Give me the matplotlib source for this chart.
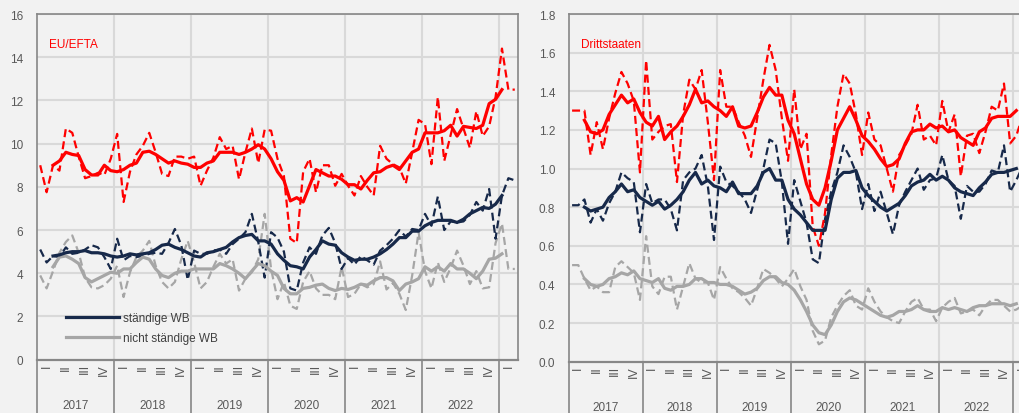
import numpy as np
import matplotlib
matplotlib.use('Agg')
import matplotlib.pyplot as plt
import matplotlib.transforms as mtransforms

plt.rcParams['font.family'] = ['Liberation Sans', 'DejaVu Sans']

# monthly values Jan 2017 .. Mar 2023, solid lines = smoothed series Mar 2017 .. Jan 2023
years = ['2017', '2018', '2019', '2020', '2021', '2022']
quarters = ['I', 'II', 'III', 'IV']
legend_labels = ['ständige WB', 'nicht ständige WB']

eu_red = [9.0, 7.75, 9.0, 8.75, 10.7, 10.5, 9.4, 8.4, 8.5, 8.65, 8.55, 9.3,
          10.45, 7.3, 8.7, 9.5, 9.9, 10.5, 9.6, 8.6, 8.5, 9.4, 9.4, 9.3,
          9.4, 8.05, 8.75, 9.35, 10.3, 9.75, 9.9, 8.35, 9.6, 10.7, 9.1, 10.65,
          10.6, 9.3, 8.5, 5.6, 5.4, 8.7, 9.3, 7.75, 9.0, 9.0, 8.05, 8.6,
          8.05, 7.6, 8.5, 8.0, 7.6, 9.9, 9.3, 9.05, 8.9, 8.15, 9.6, 11.1,
          10.9, 9.05, 12.15, 9.2, 10.4, 11.6, 10.7, 9.8, 11.5, 10.35, 10.8, 12.15,
          14.4, 12.5, 12.5]
eu_red_avg = [9.0, 9.2, 9.6, 9.5, 9.45, 8.8, 8.55, 8.55, 9.0, 8.75,
              8.7, 8.8, 9.0, 9.1, 9.6, 9.65, 9.5, 9.3, 9.1, 9.2, 9.1, 9.05,
              8.9, 8.9, 9.1, 9.2, 9.6, 9.6, 9.6, 9.5, 9.6, 9.75, 9.95, 9.75,
              9.3, 8.7, 8.3, 7.35, 7.5, 7.3, 8.05, 8.8, 8.65, 8.5, 8.5, 8.35,
              8.1, 8.1, 7.9, 8.3, 8.65, 8.7, 8.9, 9.0, 8.8, 9.2, 9.6, 9.75,
              10.5, 10.5, 10.5, 10.6, 10.85, 10.35, 10.8, 10.75, 10.7, 10.85, 11.85, 12.05,
              12.5]
eu_navy = [5.1, 4.5, 4.8, 4.75, 5.2, 4.9, 4.95, 5.1, 5.3, 5.2, 4.75, 4.2,
           5.6, 4.6, 4.8, 4.75, 4.8, 4.9, 4.95, 4.9, 5.4, 6.05, 5.3, 3.7,
           5.05, 4.9, 4.9, 5.05, 5.1, 4.9, 5.35, 5.6, 5.9, 6.75, 5.45, 3.8,
           5.9, 5.65, 5.0, 3.3, 3.2, 4.5, 5.2, 4.9, 5.75, 6.1, 5.4, 4.2,
           4.7, 4.4, 4.8, 4.6, 4.4, 5.05, 5.3, 5.6, 6.0, 5.7, 6.05, 6.0,
           6.75, 6.2, 7.55, 6.0, 6.4, 6.35, 6.4, 6.7, 7.3, 6.9, 7.9, 5.6,
           7.6, 8.4, 8.3]
eu_navy_avg = [4.8, 4.85, 4.95, 5.0, 5.0, 5.05, 4.95, 4.95, 4.9, 4.8,
               4.75, 4.8, 4.9, 4.85, 4.9, 4.95, 5.1, 5.3, 5.35, 5.2, 5.1, 4.95,
               4.8, 4.75, 4.95, 5.0, 5.1, 5.2, 5.45, 5.65, 5.75, 5.8, 5.5, 5.5,
               5.35, 4.9, 4.6, 4.35, 4.3, 4.2, 4.75, 5.1, 5.5, 5.35, 5.3, 4.95,
               4.75, 4.6, 4.65, 4.65, 4.75, 4.9, 5.1, 5.35, 5.65, 5.65, 5.95, 5.95,
               6.2, 6.35, 6.45, 6.45, 6.45, 6.35, 6.5, 6.75, 6.9, 7.05, 7.0, 7.2,
               7.6]
eu_gray = [3.9, 3.3, 4.1, 4.95, 5.45, 5.75, 4.95, 3.8, 3.35, 3.3, 3.45, 3.75,
           4.35, 2.9, 4.05, 4.75, 5.05, 5.5, 4.35, 3.6, 3.3, 3.6, 4.65, 5.5,
           4.5, 3.3, 3.6, 4.3, 4.9, 4.45, 4.65, 3.2, 3.75, 4.05, 4.65, 6.75,
           4.2, 2.8, 3.6, 2.5, 2.35, 3.6, 4.1, 3.3, 3.0, 3.0, 2.8, 4.3,
           2.9, 3.05, 3.5, 3.35, 3.5, 4.55, 3.25, 3.55, 3.05, 2.3, 3.9, 5.9,
           4.1, 3.3, 4.5, 3.6, 4.25, 5.05, 4.35, 3.5, 4.1, 3.3, 3.35, 5.4,
           6.3, 4.2, 4.2]
eu_gray_avg = [4.3, 4.75, 4.8, 4.65, 4.45, 3.8, 3.6, 3.75, 3.9, 4.05,
               4.0, 4.2, 4.2, 4.5, 4.75, 4.65, 4.2, 3.9, 3.8, 4.0, 4.1, 4.1,
               4.2, 4.2, 4.2, 4.2, 4.45, 4.35, 4.2, 4.0, 3.75, 4.1, 4.45, 4.35,
               4.1, 3.9, 3.3, 3.05, 3.05, 3.3, 3.35, 3.45, 3.5, 3.3, 3.2, 3.3,
               3.25, 3.35, 3.5, 3.45, 3.65, 3.8, 3.8, 3.65, 3.2, 3.5, 3.6, 3.75,
               4.3, 4.1, 4.3, 4.1, 4.45, 4.2, 4.2, 4.0, 3.75, 4.1, 4.65, 4.7,
               4.9]

dr_red = [1.30, 1.30, 1.30, 1.07, 1.24, 1.10, 1.26, 1.39, 1.50, 1.44, 1.35, 0.98,
          1.56, 1.15, 1.19, 1.22, 1.23, 0.93, 1.28, 1.46, 1.41, 1.51, 1.24, 0.94,
          1.51, 1.32, 1.32, 1.24, 1.17, 1.06, 1.26, 1.46, 1.64, 1.51, 1.26, 1.04,
          1.41, 1.10, 1.18, 0.70, 0.60, 0.77, 1.07, 1.32, 1.49, 1.44, 1.28, 1.07,
          1.29, 1.15, 1.12, 1.00, 0.88, 1.07, 1.12, 1.18, 1.33, 1.15, 1.17, 1.12,
          1.35, 1.19, 1.28, 0.96, 1.17, 1.18, 1.08, 1.19, 1.32, 1.30, 1.44, 1.13,
          1.17, 1.27, 1.30]
dr_red_avg = [1.25, 1.19, 1.18, 1.20, 1.28, 1.33, 1.38, 1.34, 1.36, 1.29,
              1.24, 1.22, 1.27, 1.15, 1.19, 1.22, 1.27, 1.33, 1.41, 1.34, 1.35, 1.32,
              1.30, 1.27, 1.32, 1.22, 1.21, 1.22, 1.29, 1.37, 1.42, 1.38, 1.38, 1.25,
              1.18, 1.05, 0.92, 0.84, 0.81, 0.90, 1.04, 1.20, 1.26, 1.32, 1.25, 1.17,
              1.14, 1.10, 1.05, 1.01, 1.02, 1.05, 1.13, 1.19, 1.20, 1.20, 1.23, 1.21,
              1.22, 1.19, 1.20, 1.16, 1.14, 1.12, 1.19, 1.21, 1.26, 1.27, 1.27, 1.27,
              1.30]
dr_navy = [0.81, 0.81, 0.84, 0.72, 0.79, 0.73, 0.82, 0.88, 0.98, 0.95, 0.93, 0.67,
           0.92, 0.82, 0.84, 0.84, 0.79, 0.68, 0.94, 0.98, 1.00, 1.07, 0.91, 0.63,
           1.01, 0.93, 0.91, 0.88, 0.84, 0.77, 0.89, 1.00, 1.15, 1.13, 0.93, 0.61,
           0.94, 0.83, 0.72, 0.53, 0.51, 0.74, 0.88, 0.98, 1.12, 1.06, 0.98, 0.79,
           0.92, 0.78, 0.88, 0.77, 0.66, 0.81, 0.88, 0.94, 1.00, 0.89, 0.94, 0.95,
           1.07, 0.94, 0.91, 0.74, 0.91, 0.88, 0.88, 0.92, 0.99, 0.98, 1.12, 0.88,
           0.94, 1.01, 1.00]
dr_navy_avg = [0.80, 0.78, 0.79, 0.80, 0.85, 0.88, 0.92, 0.88, 0.89, 0.85,
               0.83, 0.81, 0.83, 0.79, 0.81, 0.84, 0.88, 0.94, 0.98, 0.92, 0.94, 0.91,
               0.90, 0.88, 0.93, 0.87, 0.87, 0.87, 0.91, 0.98, 1.00, 0.94, 0.94, 0.84,
               0.79, 0.76, 0.72, 0.68, 0.68, 0.68, 0.84, 0.95, 0.98, 0.98, 0.99, 0.90,
               0.86, 0.83, 0.80, 0.78, 0.80, 0.82, 0.86, 0.91, 0.93, 0.94, 0.97, 0.94,
               0.96, 0.94, 0.90, 0.88, 0.87, 0.86, 0.90, 0.93, 0.97, 0.98, 0.98, 0.99,
               1.00]
dr_gray = [0.50, 0.50, 0.43, 0.37, 0.39, 0.36, 0.36, 0.49, 0.52, 0.49, 0.46, 0.32,
           0.65, 0.39, 0.35, 0.44, 0.44, 0.27, 0.39, 0.51, 0.43, 0.41, 0.41, 0.32,
           0.49, 0.43, 0.38, 0.36, 0.33, 0.29, 0.38, 0.48, 0.46, 0.43, 0.39, 0.43,
           0.48, 0.39, 0.32, 0.16, 0.09, 0.11, 0.23, 0.29, 0.34, 0.37, 0.29, 0.27,
           0.38, 0.31, 0.26, 0.23, 0.21, 0.20, 0.26, 0.31, 0.33, 0.27, 0.27, 0.21,
           0.28, 0.31, 0.33, 0.25, 0.26, 0.27, 0.24, 0.29, 0.32, 0.32, 0.29, 0.26,
           0.27, 0.29, 0.30]
dr_gray_avg = [0.43, 0.40, 0.39, 0.40, 0.43, 0.44, 0.46, 0.45, 0.47, 0.43,
               0.42, 0.41, 0.43, 0.38, 0.37, 0.39, 0.39, 0.40, 0.43, 0.43, 0.41, 0.41,
               0.40, 0.40, 0.39, 0.37, 0.35, 0.36, 0.38, 0.42, 0.44, 0.44, 0.41, 0.40,
               0.37, 0.32, 0.26, 0.19, 0.15, 0.14, 0.19, 0.26, 0.31, 0.33, 0.32, 0.30,
               0.28, 0.26, 0.24, 0.23, 0.24, 0.26, 0.26, 0.27, 0.29, 0.27, 0.26, 0.26,
               0.28, 0.27, 0.28, 0.27, 0.26, 0.28, 0.29, 0.29, 0.30, 0.30, 0.30, 0.29,
               0.30]

RED = '#ff0000'
NAVY = '#17294a'
GRAY = '#a6a6a6'
BG = '#f2f2f2'
GRID = '#d9d9d9'
FRAME = '#878787'
TXT = '#595959'

n_months = len(eu_red)
x_all = np.arange(n_months)
x_avg = np.arange(2, 2 + len(eu_red_avg))


def panel(ax, series, ymax, ystep, fmt, title):
    ax.set_facecolor(BG)
    ax.set_xlim(-0.5, n_months - 0.5)
    ax.set_ylim(0, ymax)
    ax.set_yticks(np.arange(0, ymax + ystep / 2, ystep))
    ax.yaxis.set_major_formatter(matplotlib.ticker.FormatStrFormatter(fmt))
    ax.set_xticks([])
    ax.tick_params(axis='y', length=0, pad=10, labelsize=8.5, labelcolor=TXT)
    for yv in ax.get_yticks()[1:]:
        ax.axhline(yv, color=GRID, lw=1.5, zorder=0)
    for k in range(1, len(years) + 1):
        ax.axvline(12 * k - 0.5, color=GRID, lw=1.5, zorder=0)
    for s in ax.spines.values():
        s.set_color(FRAME)
        s.set_linewidth(1.2)
    ax.spines['bottom'].set_linewidth(1.6)

    for vals, avg, col in series:
        l, = ax.plot(x_all, vals, color=col, lw=1.6, zorder=3)
        l.set_dashes((3.6, 1.9))
        ax.plot(x_avg, avg, color=col, lw=2.3, zorder=4, solid_joinstyle='round')

    ax.text(0.025, 0.913, title, color=RED, fontsize=8.5, transform=ax.transAxes,
            ha='left', va='center')

    # category axis: quarters and years below the plot
    tr = mtransforms.blended_transform_factory(ax.transData, ax.transAxes)
    for k in range(len(years) + 1):
        ax.plot([12 * k - 0.5] * 2, [0, -0.2], color=FRAME, lw=1.2,
                transform=tr, clip_on=False)
    for k in range(len(years) + 1):
        for q, lab in enumerate(quarters):
            m = 12 * k + 3 * q + 1
            if m >= n_months:
                break
            ax.text(m, -0.01, lab, rotation=90, ha='center', va='top',
                    fontsize=9, color=TXT, transform=tr)
    for k, yr in enumerate(years):
        ax.text(12 * k + 5.5, -0.13, yr, ha='center', va='center',
                fontsize=8.5, color=TXT, transform=tr)


fig = plt.figure(figsize=(10.19, 4.14), dpi=100, facecolor=BG)
ax1 = fig.add_axes([37 / 1019, 53.3 / 414, 481 / 1019, 345.7 / 414])
ax2 = fig.add_axes([569 / 1019, 51.3 / 414, 462.75 / 1019, 347.7 / 414])

panel(ax1, [(eu_gray, eu_gray_avg, GRAY), (eu_navy, eu_navy_avg, NAVY),
            (eu_red, eu_red_avg, RED)], 16, 2, '%d', 'EU/EFTA')
panel(ax2, [(dr_gray, dr_gray_avg, GRAY), (dr_navy, dr_navy_avg, NAVY),
            (dr_red, dr_red_avg, RED)], 1.8, 0.2, '%.1f', 'Drittstaaten')

h1, = ax1.plot([], [], color=NAVY, lw=2.3)
h2, = ax1.plot([], [], color=GRAY, lw=2.3)
ax1.legend([h1, h2], legend_labels, loc='upper left', bbox_to_anchor=(0.047, 0.155),
           frameon=False, borderpad=0, handlelength=4.5, handletextpad=0.35,
           labelspacing=0.7, fontsize=8.5, labelcolor='#404040')

fig.savefig('out.png', dpi=100, facecolor=BG)
